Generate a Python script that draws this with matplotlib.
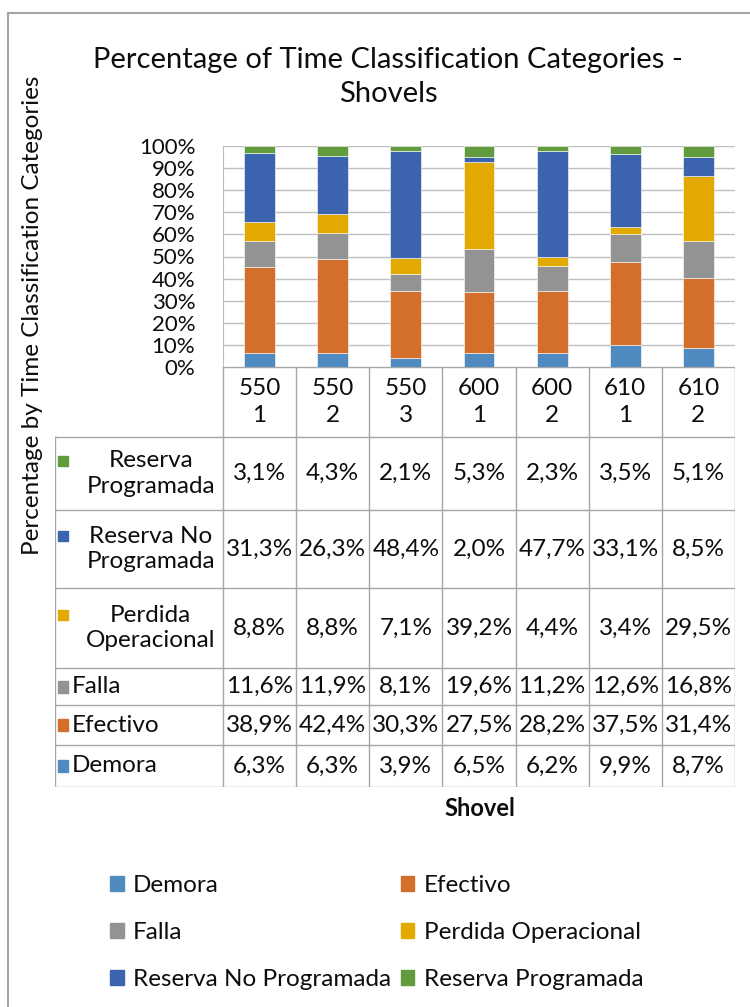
import matplotlib
matplotlib.use("Agg")
import matplotlib.pyplot as plt
from matplotlib.lines import Line2D
from matplotlib.patches import Rectangle
import numpy as np

plt.rcParams['font.family'] = ['Lato', 'DejaVu Sans']

categories = ["550\n1", "550\n2", "550\n3", "600\n1", "600\n2", "610\n1", "610\n2"]
series_names = ["Demora", "Efectivo", "Falla", "Perdida Operacional",
                "Reserva No Programada", "Reserva Programada"]
table_labels = ["Demora", "Efectivo", "Falla", "Perdida\nOperacional",
                "Reserva No\nProgramada", "Reserva\nProgramada"]
demora = [6.3, 6.3, 3.9, 6.5, 6.2, 9.9, 8.7]
efectivo = [38.9, 42.4, 30.3, 27.5, 28.2, 37.5, 31.4]
falla = [11.6, 11.9, 8.1, 19.6, 11.2, 12.6, 16.8]
perdida = [8.8, 8.8, 7.1, 39.2, 4.4, 3.4, 29.5]
reserva_np = [31.3, 26.3, 48.4, 2.0, 47.7, 33.1, 8.5]
reserva_p = [3.1, 4.3, 2.1, 5.3, 2.3, 3.5, 5.1]
y_ticks = [0, 10, 20, 30, 40, 50, 60, 70, 80, 90, 100]

colors = ["#4F8BC0", "#D46F2B", "#939393", "#E2A900", "#3C64AE", "#629B3D"]
data = [demora, efectivo, falla, perdida, reserva_np, reserva_p]

W, H = 750, 1007
fig = plt.figure(figsize=(W / 100, H / 100), dpi=100)

def fx(px):
    return px / W

def fy(py):
    return 1 - py / H

grid_col = "#BFBFBF"
txt_col = "#0D0D0D"

# main plot
pl, pr, pt, pb = 223, 735, 146, 367
ax = fig.add_axes([fx(pl), fy(pb), fx(pr) - fx(pl), fy(pt) - fy(pb)])
x = np.arange(len(categories))
bottom = np.zeros(len(categories))
for vals, c, name in zip(data, colors, series_names):
    v = np.array(vals)
    ax.bar(x, v, 0.42, bottom=bottom, color=c, edgecolor="white", linewidth=0.4,
           label=name, zorder=3)
    bottom += v
ax.set_xlim(-0.5, len(categories) - 0.5)
ax.set_ylim(0, 100)
ax.set_yticks(y_ticks)
ax.set_yticklabels([f"{t}%" for t in y_ticks], fontsize=16, color=txt_col)
ax.set_xticks([])
ax.yaxis.grid(True, color=grid_col, linewidth=1, zorder=0)
for s in ["top", "right", "bottom"]:
    ax.spines[s].set_visible(False)
ax.spines["left"].set_color(grid_col)
ax.tick_params(axis="y", length=0, pad=20)

# data table
tl, tr, tt, tb = 55, 735, 367, 787
tax = fig.add_axes([fx(tl), fy(tb), fx(tr) - fx(tl), fy(tt) - fy(tb)])
colw = (pr - pl) / len(categories)
left_units = (pl - tl) / colw
tax.set_xlim(-0.5 - left_units, len(categories) - 0.5)
row_h = [42, 40, 37, 80, 78, 73, 70]  # Demora ... Reserva Programada, header
bounds = np.concatenate([[0], np.cumsum(row_h)])
tax.set_ylim(0, bounds[-1])
tax.axis("off")
lc = "#A6A6A6"
for i, b in enumerate(bounds):
    if i == len(bounds) - 1:
        tax.plot([-0.5, len(categories) - 0.5], [b, b], color=lc, lw=1)
    else:
        tax.plot([-0.5 - left_units, len(categories) - 0.5], [b, b], color=lc, lw=1)
for k in range(len(categories) + 1):
    tax.plot([k - 0.5, k - 0.5], [0, bounds[-1]], color=lc, lw=1)
tax.plot([-0.5 - left_units] * 2, [0, bounds[-2]], color=lc, lw=1)
hy = (bounds[-2] + bounds[-1]) / 2
for i, c in enumerate(categories):
    tax.text(i, hy, c, ha="center", va="center", fontsize=17.5, color=txt_col,
             linespacing=1.3)
key_w = 10 / colw
tfs = 17.5
for r, (vals, c, lab) in enumerate(zip(data, colors, table_labels)):
    cy = (bounds[r] + bounds[r + 1]) / 2
    for i, v in enumerate(vals):
        tax.text(i, cy, f"{v:.1f}%".replace(".", ","), ha="center", va="center",
                 fontsize=tfs, color=txt_col)
    kx = -0.5 - left_units + 3 / colw
    if "\n" in lab:
        ky = cy + 13
        tax.add_patch(Rectangle((kx, ky - 5), key_w, 10, color=c, clip_on=False))
        tax.text(-0.5 - left_units * 0.43, cy, lab, ha="center", va="center",
                 fontsize=tfs, color=txt_col, linespacing=1.25)
    else:
        tax.add_patch(Rectangle((kx, cy - 6), key_w, 12, color=c, clip_on=False))
        tax.text(kx + key_w + 4 / colw, cy, lab, ha="left", va="center",
                 fontsize=tfs, color=txt_col)

# axis titles
fig.text(fx(480), fy(808), "Shovel", ha="center", va="center", fontsize=17,
         fontweight="bold", color=txt_col)
fig.text(fx(33), fy(315), "Percentage by Time Classification Categories",
         rotation=90, ha="center", va="center", fontsize=17.5, color=txt_col)
fig.text(fx(388), fy(77), "Percentage of Time Classification Categories -\nShovels",
         ha="center", va="center", fontsize=21, color=txt_col, linespacing=1.35)

# legend (row-wise order as in Excel)
order = [0, 2, 4, 1, 3, 5]
handles = [Rectangle((0, 0), 1, 1, color=colors[i]) for i in order]
labels = [series_names[i] for i in order]
fig.legend(handles, labels, loc="upper left",
           bbox_to_anchor=(fx(98), fy(863)), ncol=2, frameon=False,
           fontsize=17.5, handlelength=0.55, handleheight=0.55, handletextpad=0.4,
           columnspacing=0.4, labelspacing=1.07, labelcolor=txt_col, borderpad=0)

# chart border (top and left visible)
fig.add_artist(Line2D([fx(8), 1], [fy(13), fy(13)], color="#A6A6A6", lw=1.5))
fig.add_artist(Line2D([fx(8), fx(8)], [fy(13), 0], color="#A6A6A6", lw=1.5))

fig.savefig("out.png", dpi=100, facecolor="white")
